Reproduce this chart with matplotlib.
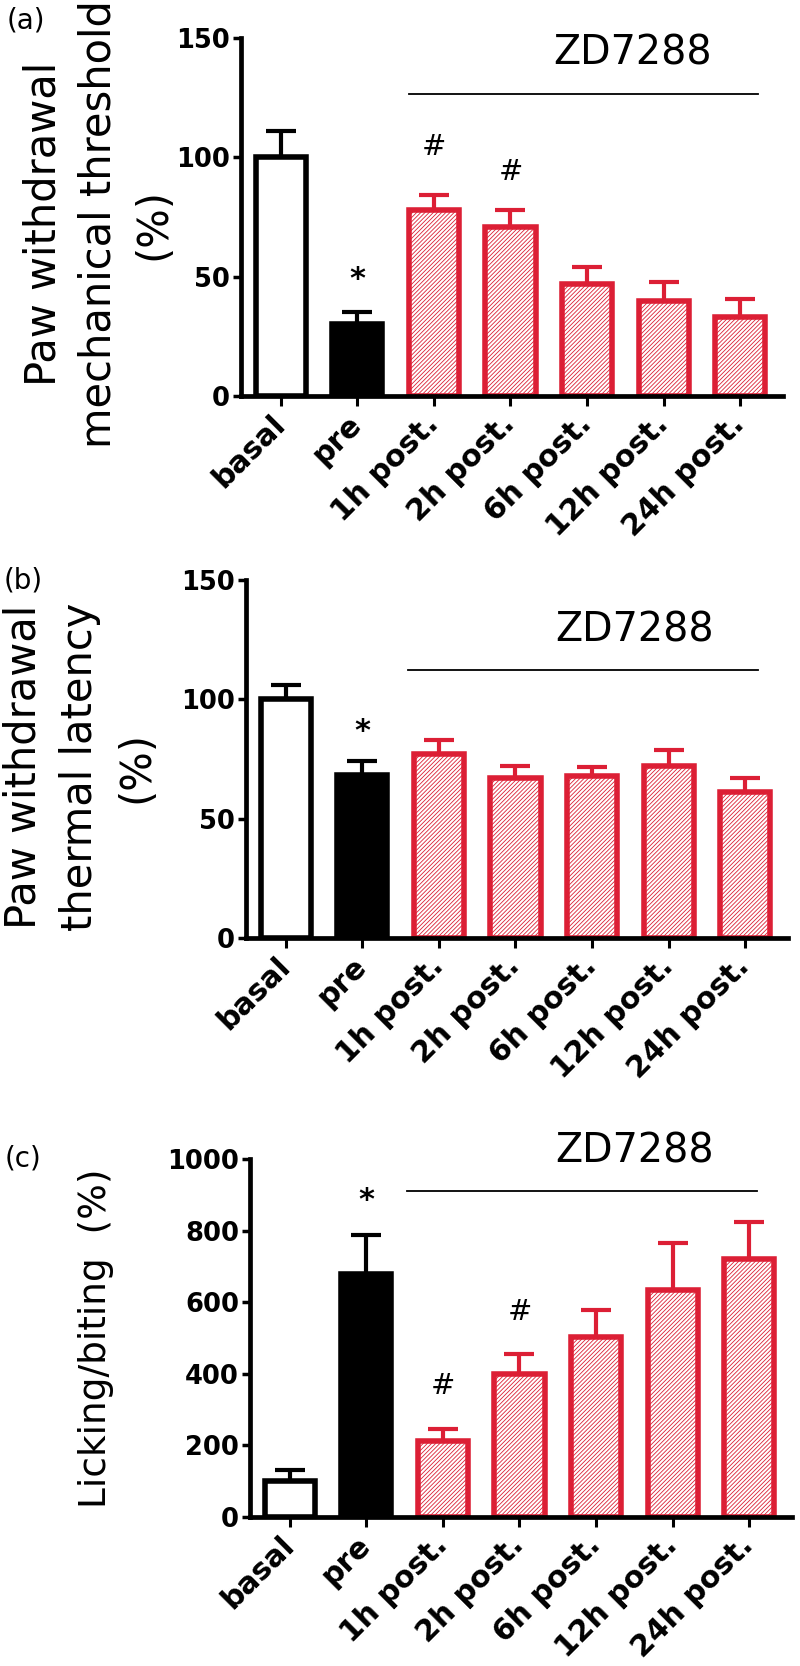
import matplotlib
matplotlib.use("Agg")
import matplotlib.pyplot as plt
import matplotlib.transforms as mtransforms
import numpy as np

# 共通のカテゴリ
groups = ["basal", "pre", "1h post.", "2h post.", "6h post.", "12h post.", "24h post."]

# (a) 機械的閾値
mech_mean = [100, 30, 78, 71, 47, 40, 33]
mech_sem = [11, 5, 6.2, 6.9, 6.9, 7.9, 7.5]

# (b) 熱潜時
therm_mean = [100, 68.5, 77, 67, 68, 72, 61]
therm_sem = [6, 5.5, 6, 5, 3.6, 6.8, 6.2]

# (c) リッキング/バイティング
lick_mean = [101, 680, 211, 399, 503, 635, 722]
lick_sem = [29, 108, 36, 56, 75, 131, 103]

RED = "#DC1F35"
plt.rcParams["font.family"] = ["DejaVu Sans"]
plt.rcParams["hatch.linewidth"] = 0.6

fig = plt.figure(figsize=(8, 16.66), dpi=100)


def panel(rect, means, sems, ylim, yticks, ylabel_lines, ylabel_size, label_xs, label_y,
          letter, letter_xy, stars, hashes, zd_x, zd_y, line_y, line_x):
    ax = fig.add_axes(rect)
    x = np.arange(len(groups))
    faces = ["white", "black"] + ["white"] * 5
    edges = ["black", "black"] + [RED] * 5
    hatches = [None, None] + ["////////"] * 5
    # エラーバー(上側のみ)
    for i in x:
        eb = ax.errorbar(i, means[i], yerr=[[0], [sems[i]]], fmt="none",
                         ecolor=edges[i], elinewidth=3, capsize=11, capthick=3,
                         zorder=1)
        eb[1][0].set_visible(False)
    for i in x:
        ax.bar(i, means[i], width=0.655, color=faces[i], edgecolor=edges[i],
               linewidth=4, hatch=hatches[i], zorder=2)
    ax.set_xlim(-0.52, 6.56)
    ax.set_ylim(*ylim)
    ax.set_yticks(yticks)
    ax.set_yticklabels([str(t) for t in yticks], fontsize=18.5, fontweight="bold")
    ax.set_xticks(x)
    ax.set_xticklabels(groups, rotation=45, ha="right", va="center",
                       rotation_mode="anchor", fontsize=21.5, fontweight="bold")
    off = mtransforms.ScaledTranslation(0.18, -0.08, fig.dpi_scale_trans)
    for lab in ax.get_xticklabels():
        lab.set_transform(lab.get_transform() + off)
    ax.tick_params(axis="x", length=7, width=2.2, pad=10)
    ax.tick_params(axis="y", length=6, width=2.5, pad=2)
    for s in ["top", "right"]:
        ax.spines[s].set_visible(False)
    for s in ["left", "bottom"]:
        ax.spines[s].set_linewidth(3.4)
    # 注釈
    for i, y in stars:
        ax.text(i, y, "*", ha="center", va="center", fontsize=22, fontweight="bold")
    for i, y in hashes:
        ax.text(i, y, "#", ha="center", va="center", fontsize=21)
    ax.text(zd_x, zd_y, "ZD7288", ha="center", va="center", fontsize=28.5, clip_on=False)
    ax.plot(line_x, [line_y, line_y], color="black", linewidth=1.3, clip_on=False)
    # 縦軸ラベル(行ごと)
    for txt, lx in zip(ylabel_lines, label_xs):
        fig.text(lx / 800, 1 - label_y / 1666, txt, rotation=90,
                 ha="center", va="center", fontsize=ylabel_size)
    fig.text(letter_xy[0] / 800, 1 - letter_xy[1] / 1666, letter,
             ha="center", va="center", fontsize=20)
    return ax


panel([241 / 800, 1 - 396 / 1666, 542 / 800, 358 / 1666],
      mech_mean, mech_sem, (0, 150), [0, 50, 100, 150],
      ["Paw withdrawal", "mechanical threshold", "(%)"], 30, [44, 99, 153], 224,
      "(a)", (26, 21),
      [(1, 49)], [(2, 104.5), (3, 94)], 4.6, 143.4, 126.5, [1.67, 6.23])

panel([246 / 800, 1 - 938 / 1666, 542 / 800, 358 / 1666],
      therm_mean, therm_sem, (0, 150), [0, 50, 100, 150],
      ["Paw withdrawal", "thermal latency", "(%)"], 30, [24, 80, 136], 767,
      "(b)", (23, 580),
      [(1, 86.4)], [], 4.55, 129, 112.3, [1.6, 6.17])

panel([250 / 800, 1 - 1517 / 1666, 542 / 800, 358 / 1666],
      lick_mean, lick_sem, (0, 1000), [0, 200, 400, 600, 800, 1000],
      ["Licking/biting  (%)"], 27, [96], 1338,
      "(c)", (23, 1158),
      [(1, 883)], [(2, 365), (3, 573)], 4.5, 1021, 911, [1.53, 6.1])

fig.savefig("out.png", dpi=100)
